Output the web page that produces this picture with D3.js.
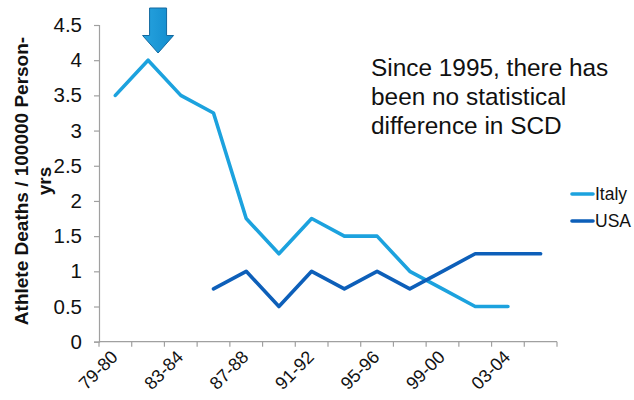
<!DOCTYPE html>
<html>
<head>
<meta charset="utf-8">
<script src="https://cdn.jsdelivr.net/npm/d3@7"></script>
<style>
  html, body { margin: 0; padding: 0; background: #fff; }
  svg { display: block; font-family: "Liberation Sans", Arial, sans-serif; }
</style>
</head>
<body>
<svg id="chart" width="634" height="400"></svg>
<script>
// Seasons on the x axis
const seasons = ["79-80", "81-82", "83-84", "85-86", "87-88", "89-90", "91-92",
                 "93-94", "95-96", "97-98", "99-00", "01-02", "03-04", "05-06"];
// Athlete deaths per 100000 person-years
const italy = [3.5, 4.0, 3.5, 3.25, 1.75, 1.25, 1.75, 1.5, 1.5, 1.0, 0.75, 0.5, 0.5, null];
const usa   = [null, null, null, 0.75, 1.0, 0.5, 1.0, 0.75, 1.0, 0.75, 1.0, 1.25, 1.25, 1.25];
const yTicks = [0, 0.5, 1, 1.5, 2, 2.5, 3, 3.5, 4, 4.5];
const seriesNames = ["Italy", "USA"];
const seriesColors = ["#1ca2de", "#0d5fb9"];
const noteLines = ["Since 1995, there has", "been no statistical", "difference in SCD"];
const titleLines = ["Athlete Deaths / 100000 Person-", "yrs"];

const svg = d3.select("#chart");
const plotLeft = 99, plotRight = 557, plotTop = 25, plotBottom = 341.7;
const axisColor = "#a0a0a0";

const x = d3.scaleBand().domain(seasons).range([plotLeft, plotRight]).paddingInner(0).paddingOuter(0);
const y = d3.scaleLinear().domain([0, 4.5]).range([plotBottom, plotTop]);

// Y axis
const yAxis = svg.append("g").attr("transform", `translate(${plotLeft},0)`)
  .call(d3.axisLeft(y).tickValues(yTicks).tickSize(5).tickPadding(12)
        .tickFormat(d => d3.format("")(d)));
yAxis.select(".domain").attr("stroke", axisColor).attr("stroke-width", 1.2);
yAxis.selectAll(".tick line").attr("stroke", axisColor).attr("stroke-width", 1.2);
yAxis.selectAll(".tick text").attr("font-size", 20.5).attr("fill", "#111")
  .attr("font-family", "Liberation Sans, Arial, sans-serif");

// X axis: tick marks on band boundaries, labels on every other season
const xg = svg.append("g");
xg.append("line").attr("x1", plotLeft).attr("x2", plotRight).attr("y1", plotBottom).attr("y2", plotBottom)
  .attr("stroke", axisColor).attr("stroke-width", 1.2);
const bounds = seasons.map(s => x(s)).concat([x(seasons[seasons.length - 1]) + x.bandwidth()]);
xg.selectAll("line.tk").data(bounds).join("line").attr("class", "tk")
  .attr("x1", d => d).attr("x2", d => d).attr("y1", plotBottom).attr("y2", plotBottom + 5)
  .attr("stroke", axisColor).attr("stroke-width", 1.2);
xg.selectAll("text").data(seasons.filter((s, i) => i % 2 === 0)).join("text")
  .attr("transform", d => `translate(${x(d) + x.bandwidth() / 2 - 1},${plotBottom + 12}) rotate(-45)`)
  .attr("text-anchor", "end").attr("dy", "0.35em")
  .attr("font-size", 18).attr("fill", "#111")
  .text(d => d);

// Series lines
const line = d3.line()
  .defined(d => d.v !== null)
  .x(d => x(d.s) + x.bandwidth() / 2)
  .y(d => y(d.v));
[italy, usa].forEach((vals, i) => {
  svg.append("path")
    .datum(seasons.map((s, j) => ({ s, v: vals[j] })))
    .attr("d", line)
    .attr("fill", "none")
    .attr("stroke", seriesColors[i])
    .attr("stroke-width", 3.6)
    .attr("stroke-linejoin", "round")
    .attr("stroke-linecap", "round");
});

// Y axis title
const title = svg.append("text")
  .attr("transform", `translate(28,181) rotate(-90)`)
  .attr("text-anchor", "middle").attr("font-size", 19).attr("font-weight", "bold").attr("fill", "#111");
titleLines.forEach((t, i) => {
  title.append("tspan").attr("x", 0).attr("dy", i === 0 ? 0 : 23).text(t);
});

// Legend
const legend = svg.append("g");
seriesNames.forEach((n, i) => {
  const ly = 194 + i * 27;
  legend.append("line").attr("x1", 572).attr("x2", 593).attr("y1", ly).attr("y2", ly)
    .attr("stroke", seriesColors[i]).attr("stroke-width", 3.6).attr("stroke-linecap", "round");
  legend.append("text").attr("x", 595).attr("y", ly).attr("dy", "0.35em")
    .attr("font-size", 17.5).attr("fill", "#111").text(n);
});

// Note
const note = svg.append("text").attr("font-size", 24.4).attr("fill", "#111");
noteLines.forEach((t, i) => {
  note.append("tspan").attr("x", 371).attr("y", 76 + i * 29).text(t);
});

// Arrow pointing at the peak season
const ax = x(seasons[1]) + x.bandwidth() / 2 + 10;
const arrowPts = [[ax - 8.5, 8], [ax + 8.5, 8], [ax + 8.5, 35.5], [ax + 15.5, 35.5],
                  [ax, 53], [ax - 15.5, 35.5], [ax - 8.5, 35.5]];
const grad = svg.append("defs").append("linearGradient").attr("id", "arrowFill")
  .attr("x1", 0).attr("x2", 1).attr("y1", 0).attr("y2", 0);
grad.append("stop").attr("offset", "0%").attr("stop-color", "#27a3df");
grad.append("stop").attr("offset", "100%").attr("stop-color", "#128ccd");
svg.append("path")
  .attr("d", d3.line()(arrowPts) + "Z")
  .attr("fill", "url(#arrowFill)")
  .attr("stroke", "#13699f").attr("stroke-width", 1);
</script>
</body>
</html>
